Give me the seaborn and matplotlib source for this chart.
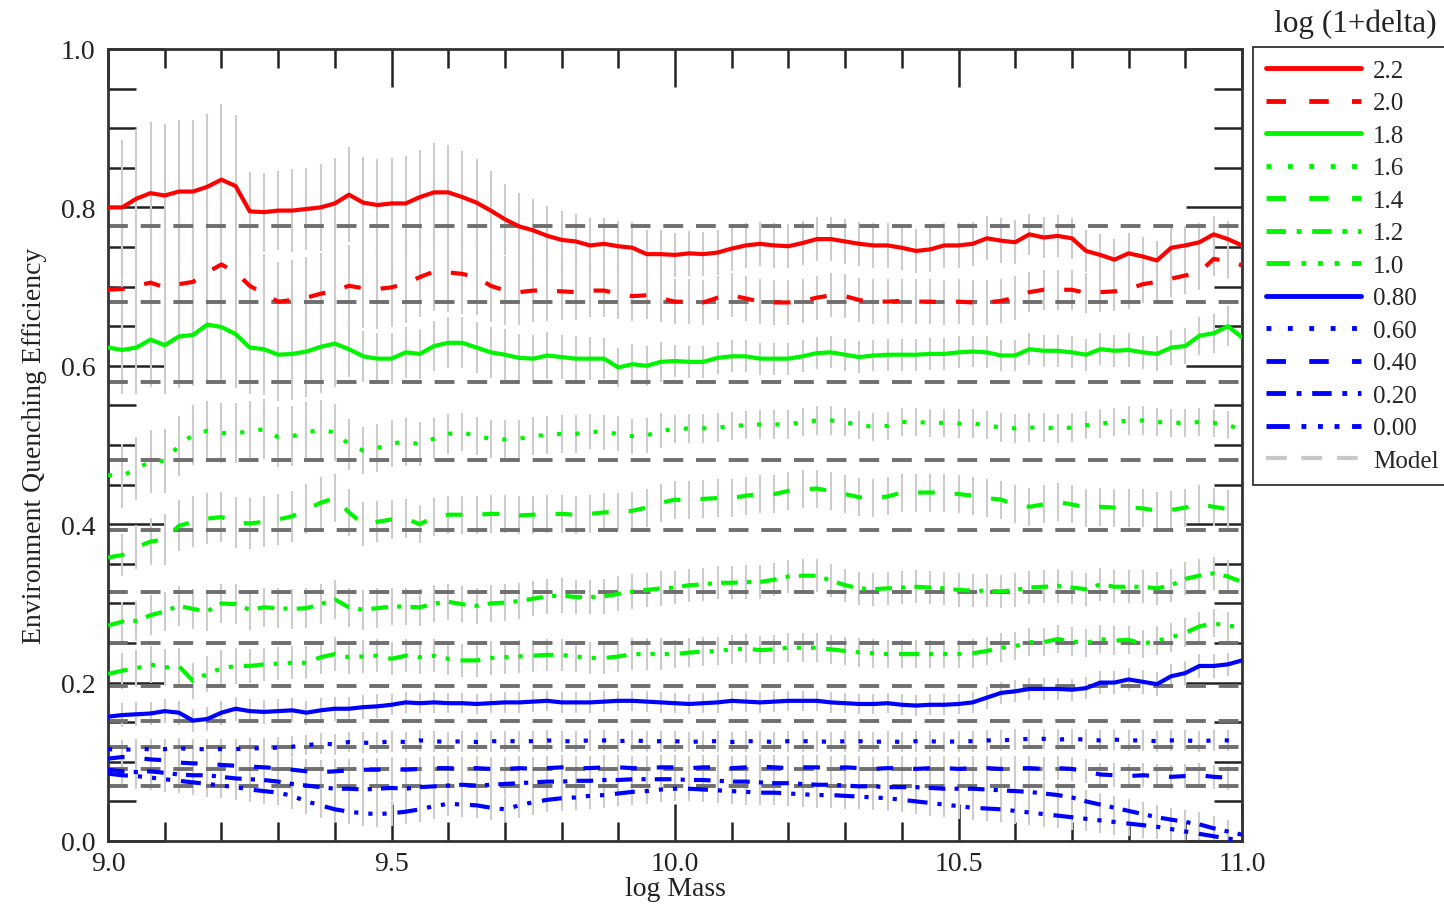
import numpy as np
import pandas as pd
import matplotlib
matplotlib.use("Agg")
import matplotlib.pyplot as plt
from matplotlib.lines import Line2D
from matplotlib.ticker import MultipleLocator, FormatStrFormatter
import seaborn as sns

# sampling grid in log mass (step 0.025)
mass = np.linspace(9.0, 11.0, 81)

# quenching efficiency per log(1+delta) bin
q_22 = [0.800, 0.800, 0.811, 0.818, 0.815, 0.820, 0.820, 0.826, 0.835, 0.827,
        0.795, 0.794, 0.796, 0.796, 0.798, 0.800, 0.805, 0.816, 0.806, 0.803,
        0.805, 0.805, 0.813, 0.819, 0.819, 0.813, 0.806, 0.796, 0.785, 0.776,
        0.771, 0.764, 0.759, 0.757, 0.752, 0.754, 0.751, 0.749, 0.741, 0.741,
        0.740, 0.742, 0.741, 0.743, 0.748, 0.752, 0.754, 0.752, 0.751, 0.755,
        0.760, 0.760, 0.757, 0.754, 0.752, 0.752, 0.749, 0.745, 0.747, 0.752,
        0.752, 0.754, 0.761, 0.758, 0.756, 0.766, 0.762, 0.764, 0.761, 0.745,
        0.740, 0.734, 0.742, 0.738, 0.733, 0.749, 0.752, 0.756, 0.766, 0.760,
        0.752]
q_20 = [0.696, 0.697, 0.701, 0.705, 0.699, 0.703, 0.706, 0.718, 0.728, 0.718,
        0.701, 0.691, 0.681, 0.683, 0.686, 0.691, 0.695, 0.701, 0.698, 0.697,
        0.699, 0.704, 0.712, 0.719, 0.718, 0.716, 0.712, 0.701, 0.695, 0.693,
        0.695, 0.695, 0.694, 0.693, 0.695, 0.695, 0.691, 0.688, 0.689, 0.685,
        0.681, 0.681, 0.680, 0.686, 0.689, 0.685, 0.681, 0.680, 0.680, 0.682,
        0.686, 0.689, 0.688, 0.683, 0.681, 0.681, 0.682, 0.681, 0.681, 0.680,
        0.681, 0.680, 0.680, 0.682, 0.686, 0.693, 0.696, 0.696, 0.696, 0.692,
        0.693, 0.694, 0.697, 0.703, 0.706, 0.710, 0.714, 0.718, 0.735, 0.732,
        0.727]
q_18 = [0.623, 0.620, 0.623, 0.633, 0.626, 0.637, 0.639, 0.652, 0.649, 0.640,
        0.623, 0.621, 0.614, 0.615, 0.618, 0.624, 0.628, 0.621, 0.612, 0.609,
        0.609, 0.617, 0.615, 0.625, 0.629, 0.629, 0.623, 0.617, 0.614, 0.610,
        0.609, 0.613, 0.611, 0.609, 0.609, 0.609, 0.598, 0.602, 0.600, 0.605,
        0.606, 0.605, 0.605, 0.610, 0.612, 0.612, 0.609, 0.609, 0.609, 0.612,
        0.616, 0.617, 0.614, 0.611, 0.613, 0.614, 0.614, 0.614, 0.615, 0.615,
        0.617, 0.618, 0.617, 0.613, 0.613, 0.621, 0.619, 0.619, 0.617, 0.614,
        0.621, 0.619, 0.620, 0.617, 0.615, 0.623, 0.625, 0.638, 0.641, 0.650,
        0.636]
q_16 = [0.462, 0.461, 0.470, 0.479, 0.480, 0.499, 0.513, 0.518, 0.515, 0.515,
        0.517, 0.520, 0.510, 0.511, 0.516, 0.519, 0.516, 0.501, 0.493, 0.496,
        0.502, 0.504, 0.501, 0.508, 0.514, 0.516, 0.511, 0.508, 0.507, 0.508,
        0.511, 0.513, 0.514, 0.514, 0.517, 0.516, 0.514, 0.511, 0.512, 0.518,
        0.520, 0.521, 0.521, 0.522, 0.524, 0.525, 0.526, 0.526, 0.526, 0.529,
        0.531, 0.531, 0.529, 0.525, 0.523, 0.524, 0.529, 0.529, 0.528, 0.528,
        0.527, 0.527, 0.525, 0.522, 0.521, 0.522, 0.522, 0.521, 0.522, 0.525,
        0.527, 0.529, 0.531, 0.531, 0.529, 0.528, 0.528, 0.529, 0.528, 0.525,
        0.520]
q_14 = [0.358, 0.361, 0.371, 0.378, 0.381, 0.398, 0.403, 0.407, 0.409, 0.402,
        0.401, 0.403, 0.406, 0.410, 0.419, 0.427, 0.433, 0.415, 0.400, 0.403,
        0.406, 0.407, 0.400, 0.409, 0.412, 0.412, 0.412, 0.413, 0.413, 0.411,
        0.412, 0.413, 0.413, 0.412, 0.413, 0.415, 0.415, 0.417, 0.421, 0.427,
        0.431, 0.430, 0.432, 0.433, 0.433, 0.436, 0.438, 0.438, 0.442, 0.444,
        0.445, 0.442, 0.438, 0.434, 0.433, 0.435, 0.440, 0.440, 0.440, 0.440,
        0.438, 0.436, 0.433, 0.431, 0.425, 0.422, 0.425, 0.428, 0.425, 0.421,
        0.422, 0.421, 0.421, 0.420, 0.417, 0.418, 0.421, 0.425, 0.422, 0.419,
        0.411]
q_12 = [0.272, 0.277, 0.278, 0.285, 0.290, 0.297, 0.293, 0.290, 0.300, 0.299,
        0.292, 0.295, 0.294, 0.293, 0.294, 0.299, 0.305, 0.295, 0.292, 0.294,
        0.296, 0.296, 0.295, 0.300, 0.302, 0.299, 0.297, 0.300, 0.301, 0.303,
        0.306, 0.309, 0.310, 0.308, 0.308, 0.309, 0.312, 0.315, 0.317, 0.319,
        0.320, 0.323, 0.324, 0.326, 0.326, 0.327, 0.327, 0.330, 0.334, 0.335,
        0.335, 0.329, 0.323, 0.319, 0.318, 0.319, 0.320, 0.321, 0.320, 0.319,
        0.317, 0.316, 0.316, 0.315, 0.317, 0.320, 0.321, 0.322, 0.320, 0.318,
        0.324, 0.321, 0.321, 0.321, 0.319, 0.323, 0.331, 0.335, 0.338, 0.334,
        0.327]
q_10 = [0.211, 0.215, 0.218, 0.223, 0.219, 0.221, 0.202, 0.211, 0.218, 0.221,
        0.221, 0.223, 0.224, 0.225, 0.225, 0.232, 0.236, 0.232, 0.233, 0.234,
        0.230, 0.234, 0.232, 0.234, 0.230, 0.228, 0.228, 0.231, 0.232, 0.233,
        0.234, 0.235, 0.235, 0.233, 0.231, 0.231, 0.233, 0.236, 0.236, 0.236,
        0.236, 0.238, 0.239, 0.240, 0.242, 0.243, 0.241, 0.242, 0.244, 0.244,
        0.244, 0.242, 0.240, 0.238, 0.237, 0.236, 0.236, 0.236, 0.236, 0.236,
        0.236, 0.237, 0.240, 0.244, 0.246, 0.251, 0.251, 0.255, 0.252, 0.250,
        0.255, 0.253, 0.254, 0.249, 0.253, 0.257, 0.263, 0.271, 0.275, 0.271,
        0.272]
q_08 = [0.157, 0.159, 0.160, 0.161, 0.164, 0.162, 0.152, 0.154, 0.162, 0.167,
        0.164, 0.163, 0.164, 0.165, 0.162, 0.165, 0.167, 0.167, 0.169, 0.170,
        0.172, 0.175, 0.174, 0.175, 0.174, 0.174, 0.173, 0.174, 0.175, 0.175,
        0.176, 0.177, 0.175, 0.175, 0.175, 0.176, 0.177, 0.177, 0.176, 0.175,
        0.174, 0.173, 0.174, 0.175, 0.177, 0.176, 0.175, 0.176, 0.177, 0.177,
        0.177, 0.175, 0.174, 0.173, 0.173, 0.174, 0.172, 0.171, 0.172, 0.172,
        0.173, 0.175, 0.181, 0.187, 0.189, 0.192, 0.192, 0.192, 0.191, 0.193,
        0.200, 0.200, 0.204, 0.201, 0.198, 0.208, 0.212, 0.221, 0.221, 0.223,
        0.228]
q_06 = [0.116, 0.115, 0.116, 0.116, 0.116, 0.117, 0.116, 0.116, 0.116, 0.116,
        0.117, 0.117, 0.118, 0.119, 0.121, 0.123, 0.122, 0.125, 0.124, 0.124,
        0.126, 0.125, 0.127, 0.126, 0.125, 0.126, 0.125, 0.126, 0.126, 0.126,
        0.126, 0.127, 0.126, 0.126, 0.127, 0.127, 0.126, 0.127, 0.126, 0.126,
        0.126, 0.125, 0.126, 0.126, 0.125, 0.126, 0.126, 0.125, 0.126, 0.126,
        0.126, 0.125, 0.126, 0.126, 0.125, 0.126, 0.125, 0.126, 0.126, 0.125,
        0.126, 0.126, 0.127, 0.127, 0.128, 0.129, 0.129, 0.128, 0.129, 0.128,
        0.127, 0.128, 0.127, 0.127, 0.126, 0.127, 0.127, 0.126, 0.127, 0.127,
        0.126]
q_04 = [0.104, 0.106, 0.105, 0.103, 0.102, 0.099, 0.098, 0.098, 0.096, 0.095,
        0.094, 0.093, 0.092, 0.090, 0.088, 0.087, 0.088, 0.089, 0.090, 0.090,
        0.091, 0.090, 0.091, 0.092, 0.092, 0.091, 0.092, 0.091, 0.091, 0.092,
        0.091, 0.092, 0.093, 0.092, 0.092, 0.093, 0.093, 0.092, 0.092, 0.093,
        0.093, 0.092, 0.093, 0.093, 0.092, 0.093, 0.094, 0.093, 0.092, 0.093,
        0.093, 0.092, 0.093, 0.092, 0.091, 0.092, 0.092, 0.091, 0.092, 0.092,
        0.091, 0.092, 0.092, 0.091, 0.092, 0.092, 0.091, 0.092, 0.091, 0.088,
        0.084, 0.083, 0.082, 0.083, 0.082, 0.081, 0.082, 0.083, 0.081, 0.080,
        0.076]
q_02 = [0.090, 0.088, 0.087, 0.088, 0.086, 0.084, 0.083, 0.083, 0.081, 0.079,
        0.078, 0.077, 0.075, 0.072, 0.070, 0.068, 0.066, 0.066, 0.065, 0.066,
        0.067, 0.066, 0.068, 0.069, 0.070, 0.071, 0.070, 0.071, 0.072, 0.073,
        0.074, 0.075, 0.075, 0.076, 0.076, 0.077, 0.077, 0.078, 0.078, 0.078,
        0.078, 0.077, 0.077, 0.076, 0.075, 0.075, 0.074, 0.073, 0.073, 0.072,
        0.071, 0.071, 0.070, 0.069, 0.069, 0.068, 0.068, 0.068, 0.067, 0.066,
        0.066, 0.066, 0.065, 0.064, 0.063, 0.062, 0.060, 0.058, 0.055, 0.050,
        0.046, 0.042, 0.038, 0.034, 0.030, 0.027, 0.024, 0.021, 0.016, 0.012,
        0.008]
q_00 = [0.085, 0.083, 0.082, 0.080, 0.078, 0.076, 0.074, 0.072, 0.070, 0.068,
        0.065, 0.063, 0.061, 0.057, 0.050, 0.045, 0.040, 0.037, 0.035, 0.034,
        0.035, 0.037, 0.040, 0.044, 0.047, 0.046, 0.045, 0.042, 0.040, 0.045,
        0.049, 0.052, 0.054, 0.055, 0.057, 0.058, 0.060, 0.062, 0.063, 0.065,
        0.066, 0.066, 0.065, 0.064, 0.063, 0.062, 0.061, 0.061, 0.060, 0.059,
        0.058, 0.058, 0.057, 0.056, 0.055, 0.054, 0.052, 0.050, 0.048, 0.046,
        0.044, 0.042, 0.041, 0.040, 0.038, 0.036, 0.034, 0.032, 0.030, 0.028,
        0.026, 0.024, 0.022, 0.020, 0.018, 0.015, 0.012, 0.009, 0.006, 0.003,
        0.001]

# half-length of the grey error bars
err_22 = [0.085, 0.085, 0.088, 0.090, 0.090, 0.090, 0.090, 0.092, 0.095, 0.090,
          0.050, 0.050, 0.050, 0.052, 0.052, 0.055, 0.058, 0.060, 0.058, 0.058,
          0.058, 0.060, 0.060, 0.062, 0.060, 0.058, 0.055, 0.050, 0.045, 0.042,
          0.040, 0.038, 0.036, 0.035, 0.034, 0.033, 0.032, 0.032, 0.030, 0.030,
          0.028, 0.028, 0.028, 0.028, 0.028, 0.028, 0.028, 0.028, 0.028, 0.028,
          0.028, 0.028, 0.028, 0.028, 0.028, 0.028, 0.028, 0.028, 0.028, 0.028,
          0.028, 0.028, 0.028, 0.028, 0.028, 0.026, 0.026, 0.026, 0.026, 0.026,
          0.026, 0.026, 0.026, 0.025, 0.025, 0.025, 0.024, 0.024, 0.023, 0.023,
          0.022]
err_20 = [0.080, 0.080, 0.082, 0.085, 0.085, 0.085, 0.085, 0.088, 0.090, 0.088,
          0.050, 0.050, 0.050, 0.050, 0.052, 0.052, 0.052, 0.052, 0.050, 0.050,
          0.050, 0.050, 0.050, 0.050, 0.050, 0.050, 0.048, 0.046, 0.044, 0.042,
          0.040, 0.038, 0.036, 0.035, 0.034, 0.033, 0.032, 0.032, 0.030, 0.030,
          0.028, 0.028, 0.028, 0.028, 0.028, 0.028, 0.028, 0.028, 0.028, 0.028,
          0.028, 0.028, 0.028, 0.028, 0.028, 0.028, 0.028, 0.028, 0.028, 0.028,
          0.028, 0.028, 0.028, 0.028, 0.028, 0.025, 0.025, 0.025, 0.025, 0.025,
          0.025, 0.025, 0.025, 0.024, 0.024, 0.023, 0.023, 0.022, 0.022, 0.022,
          0.022]
err_18 = [0.055, 0.055, 0.058, 0.060, 0.062, 0.065, 0.065, 0.070, 0.070, 0.068,
          0.058, 0.058, 0.058, 0.058, 0.058, 0.058, 0.055, 0.035, 0.032, 0.032,
          0.032, 0.032, 0.032, 0.032, 0.032, 0.032, 0.032, 0.032, 0.032, 0.030,
          0.030, 0.030, 0.028, 0.028, 0.027, 0.026, 0.025, 0.025, 0.025, 0.025,
          0.020, 0.020, 0.020, 0.020, 0.020, 0.020, 0.020, 0.020, 0.020, 0.020,
          0.020, 0.020, 0.020, 0.020, 0.020, 0.020, 0.020, 0.020, 0.020, 0.020,
          0.020, 0.020, 0.020, 0.020, 0.020, 0.020, 0.020, 0.020, 0.020, 0.020,
          0.020, 0.020, 0.021, 0.021, 0.022, 0.022, 0.023, 0.024, 0.025, 0.025,
          0.025]
err_16 = [0.040, 0.040, 0.040, 0.040, 0.040, 0.038, 0.038, 0.038, 0.038, 0.038,
          0.038, 0.038, 0.038, 0.038, 0.038, 0.038, 0.036, 0.032, 0.030, 0.030,
          0.030, 0.030, 0.028, 0.026, 0.025, 0.024, 0.024, 0.024, 0.024, 0.024,
          0.024, 0.024, 0.024, 0.024, 0.022, 0.022, 0.022, 0.022, 0.022, 0.022,
          0.018, 0.018, 0.018, 0.018, 0.018, 0.018, 0.018, 0.018, 0.018, 0.018,
          0.018, 0.018, 0.018, 0.018, 0.018, 0.018, 0.018, 0.018, 0.018, 0.018,
          0.018, 0.018, 0.018, 0.018, 0.018, 0.018, 0.018, 0.018, 0.018, 0.018,
          0.018, 0.018, 0.018, 0.018, 0.018, 0.018, 0.018, 0.018, 0.018, 0.018,
          0.018]
err_14 = [0.027, 0.027, 0.028, 0.030, 0.032, 0.032, 0.032, 0.032, 0.032, 0.032,
          0.032, 0.032, 0.032, 0.032, 0.032, 0.032, 0.030, 0.030, 0.028, 0.026,
          0.025, 0.025, 0.024, 0.024, 0.024, 0.024, 0.024, 0.024, 0.024, 0.024,
          0.024, 0.024, 0.024, 0.024, 0.024, 0.024, 0.024, 0.024, 0.024, 0.024,
          0.024, 0.024, 0.024, 0.024, 0.024, 0.024, 0.024, 0.024, 0.024, 0.024,
          0.024, 0.024, 0.024, 0.024, 0.024, 0.024, 0.024, 0.024, 0.024, 0.024,
          0.024, 0.024, 0.024, 0.024, 0.024, 0.024, 0.024, 0.024, 0.024, 0.024,
          0.024, 0.024, 0.024, 0.024, 0.024, 0.024, 0.024, 0.024, 0.024, 0.024,
          0.024]
err_12 = [0.025, 0.025, 0.025, 0.025, 0.025, 0.025, 0.025, 0.025, 0.025, 0.025,
          0.025, 0.025, 0.025, 0.025, 0.025, 0.025, 0.025, 0.025, 0.025, 0.025,
          0.023, 0.023, 0.023, 0.023, 0.023, 0.023, 0.023, 0.023, 0.023, 0.023,
          0.022, 0.022, 0.022, 0.022, 0.022, 0.022, 0.022, 0.022, 0.022, 0.022,
          0.021, 0.021, 0.021, 0.021, 0.021, 0.021, 0.021, 0.021, 0.021, 0.021,
          0.021, 0.021, 0.021, 0.021, 0.021, 0.021, 0.021, 0.021, 0.021, 0.021,
          0.021, 0.021, 0.021, 0.021, 0.021, 0.021, 0.021, 0.021, 0.021, 0.021,
          0.021, 0.021, 0.021, 0.021, 0.021, 0.021, 0.021, 0.021, 0.021, 0.021,
          0.021]
err_10 = [0.023, 0.023, 0.023, 0.023, 0.023, 0.023, 0.023, 0.023, 0.023, 0.023,
          0.021, 0.021, 0.021, 0.021, 0.021, 0.021, 0.021, 0.021, 0.021, 0.021,
          0.021, 0.021, 0.021, 0.021, 0.021, 0.021, 0.021, 0.021, 0.021, 0.021,
          0.020, 0.020, 0.020, 0.020, 0.020, 0.020, 0.020, 0.020, 0.020, 0.020,
          0.018, 0.018, 0.018, 0.018, 0.018, 0.018, 0.018, 0.018, 0.018, 0.018,
          0.018, 0.018, 0.018, 0.018, 0.018, 0.018, 0.018, 0.018, 0.018, 0.018,
          0.018, 0.018, 0.018, 0.018, 0.018, 0.018, 0.018, 0.018, 0.018, 0.018,
          0.018, 0.018, 0.018, 0.018, 0.018, 0.018, 0.018, 0.018, 0.018, 0.018,
          0.018]
err_08 = [0.015, 0.015, 0.015, 0.015, 0.015, 0.015, 0.015, 0.015, 0.015, 0.015,
          0.015, 0.015, 0.015, 0.015, 0.015, 0.015, 0.015, 0.015, 0.015, 0.015,
          0.013, 0.013, 0.013, 0.013, 0.013, 0.013, 0.013, 0.013, 0.013, 0.013,
          0.013, 0.013, 0.013, 0.013, 0.013, 0.013, 0.013, 0.013, 0.013, 0.013,
          0.013, 0.013, 0.013, 0.013, 0.013, 0.013, 0.013, 0.013, 0.013, 0.013,
          0.013, 0.013, 0.013, 0.013, 0.013, 0.013, 0.013, 0.013, 0.013, 0.013,
          0.013, 0.013, 0.014, 0.014, 0.014, 0.014, 0.014, 0.014, 0.014, 0.014,
          0.015, 0.015, 0.015, 0.015, 0.015, 0.015, 0.015, 0.015, 0.015, 0.015,
          0.015]
err_06 = [0.013, 0.013, 0.013, 0.013, 0.013, 0.013, 0.013, 0.013, 0.013, 0.013,
          0.013, 0.013, 0.013, 0.013, 0.013, 0.013, 0.013, 0.013, 0.013, 0.013,
          0.013, 0.013, 0.013, 0.013, 0.013, 0.013, 0.013, 0.013, 0.013, 0.013,
          0.013, 0.013, 0.013, 0.013, 0.013, 0.013, 0.013, 0.013, 0.013, 0.013,
          0.013, 0.013, 0.013, 0.013, 0.013, 0.013, 0.013, 0.013, 0.013, 0.013,
          0.013, 0.013, 0.013, 0.013, 0.013, 0.013, 0.013, 0.013, 0.013, 0.013,
          0.013, 0.013, 0.013, 0.013, 0.013, 0.013, 0.013, 0.013, 0.013, 0.013,
          0.013, 0.013, 0.013, 0.013, 0.013, 0.013, 0.013, 0.013, 0.013, 0.013,
          0.013]
err_04 = [0.015, 0.015, 0.015, 0.015, 0.015, 0.015, 0.015, 0.015, 0.015, 0.015,
          0.015, 0.015, 0.015, 0.015, 0.015, 0.015, 0.015, 0.015, 0.015, 0.015,
          0.015, 0.015, 0.015, 0.015, 0.015, 0.015, 0.015, 0.015, 0.015, 0.015,
          0.015, 0.015, 0.015, 0.015, 0.015, 0.015, 0.015, 0.015, 0.015, 0.015,
          0.015, 0.015, 0.015, 0.015, 0.015, 0.015, 0.015, 0.015, 0.015, 0.015,
          0.015, 0.015, 0.015, 0.015, 0.015, 0.015, 0.015, 0.015, 0.015, 0.015,
          0.015, 0.015, 0.015, 0.015, 0.015, 0.015, 0.015, 0.015, 0.015, 0.015,
          0.015, 0.015, 0.015, 0.015, 0.015, 0.015, 0.015, 0.015, 0.015, 0.015,
          0.015]
err_02 = [0.015, 0.015, 0.015, 0.015, 0.015, 0.015, 0.015, 0.015, 0.015, 0.015,
          0.015, 0.015, 0.015, 0.015, 0.015, 0.015, 0.015, 0.015, 0.015, 0.015,
          0.015, 0.015, 0.015, 0.015, 0.015, 0.015, 0.015, 0.015, 0.015, 0.015,
          0.015, 0.015, 0.015, 0.015, 0.015, 0.015, 0.015, 0.015, 0.015, 0.015,
          0.015, 0.015, 0.015, 0.015, 0.015, 0.015, 0.015, 0.015, 0.015, 0.015,
          0.015, 0.015, 0.015, 0.015, 0.015, 0.015, 0.015, 0.015, 0.015, 0.015,
          0.015, 0.015, 0.015, 0.015, 0.015, 0.015, 0.015, 0.015, 0.015, 0.015,
          0.015, 0.015, 0.015, 0.015, 0.015, 0.015, 0.015, 0.015, 0.015, 0.015,
          0.015]
err_00 = [0.016, 0.016, 0.016, 0.016, 0.016, 0.016, 0.016, 0.016, 0.016, 0.016,
          0.016, 0.016, 0.016, 0.016, 0.016, 0.016, 0.016, 0.016, 0.016, 0.016,
          0.016, 0.016, 0.016, 0.016, 0.016, 0.016, 0.016, 0.016, 0.016, 0.016,
          0.016, 0.016, 0.016, 0.016, 0.016, 0.016, 0.016, 0.016, 0.016, 0.016,
          0.016, 0.016, 0.016, 0.016, 0.016, 0.016, 0.016, 0.016, 0.016, 0.016,
          0.016, 0.016, 0.016, 0.016, 0.016, 0.016, 0.016, 0.016, 0.016, 0.016,
          0.016, 0.016, 0.016, 0.016, 0.016, 0.016, 0.016, 0.016, 0.016, 0.016,
          0.016, 0.016, 0.016, 0.016, 0.016, 0.016, 0.016, 0.016, 0.016, 0.016,
          0.016]

# model predictions (flat lines)
model_levels = [0.777, 0.680, 0.579, 0.481, 0.393, 0.315, 0.250, 0.196,
                0.152, 0.119, 0.091, 0.069]

labels = ["2.2", "2.0", "1.8", "1.6", "1.4", "1.2", "1.0",
          "0.80", "0.60", "0.40", "0.20", "0.00"]
series = [q_22, q_20, q_18, q_16, q_14, q_12, q_10, q_08, q_06, q_04, q_02, q_00]
errors = [err_22, err_20, err_18, err_16, err_14, err_12, err_10,
          err_08, err_06, err_04, err_02, err_00]

RED, GREEN, BLUE = "#ff0000", "#00f500", "#0000ff"
colors = [RED, RED, GREEN, GREEN, GREEN, GREEN, GREEN, BLUE, BLUE, BLUE, BLUE, BLUE]

solid = ""
dashed = (4.0, 4.8)
dotted = (1.0, 3.4)
dashdot = (4.0, 2.2, 1.0, 2.2)
dashdotdot = (4.8, 2.4, 1.0, 2.4, 1.0, 2.4, 1.0, 2.6)
styles = [solid, dashed, solid, dotted, dashed, dashdot, dashdotdot,
          solid, dotted, dashed, dashdot, dashdotdot]

df = pd.concat(
    [pd.DataFrame({"mass": mass, "eff": vals, "delta": lab})
     for lab, vals in zip(labels, series)],
    ignore_index=True,
)

sns.set_style("ticks")
plt.rcParams["font.family"] = ["Liberation Serif", "DejaVu Serif"]

fig = plt.figure(figsize=(14.44, 9.12), dpi=100)
ax = fig.add_axes([108 / 1444, 1 - 842 / 912, (1242 - 108) / 1444, (842 - 50) / 912])

# grey error bars
for vals, err in zip(series, errors):
    v = np.array(vals)
    e = np.array(err)
    ax.vlines(mass, v - e, v + e, colors="#cccccc", linewidth=1.5, zorder=1)

# model lines
for lev in model_levels:
    ax.axhline(lev, color="#6f6f6f", linewidth=2.8, dashes=(5.1, 3.3), zorder=2)

sns.lineplot(
    data=df, x="mass", y="eff", hue="delta", style="delta",
    hue_order=labels, style_order=labels,
    palette=dict(zip(labels, colors)), dashes=dict(zip(labels, styles)),
    linewidth=3, estimator=None, sort=False, legend=False, ax=ax, zorder=3,
)

ax.set_xlim(9.0, 11.0)
ax.set_ylim(0.0, 1.0)
ax.xaxis.set_major_locator(MultipleLocator(0.5))
ax.xaxis.set_minor_locator(MultipleLocator(0.1))
ax.yaxis.set_major_locator(MultipleLocator(0.2))
ax.yaxis.set_minor_locator(MultipleLocator(0.05))
ax.xaxis.set_major_formatter(FormatStrFormatter("%.1f"))
ax.yaxis.set_major_formatter(FormatStrFormatter("%.1f"))

ax.tick_params(which="both", direction="in", top=True, right=True,
               color="#222222", width=1.8, labelsize=20, labelcolor="#222222")
ax.tick_params(axis="x", which="major", length=27, pad=7)
ax.tick_params(axis="x", which="minor", length=14)
ax.tick_params(axis="y", which="major", length=40, pad=9)
ax.tick_params(axis="y", which="minor", length=20)
for sp in ax.spines.values():
    sp.set_linewidth(2.0)
    sp.set_color("#333333")

ax.set_xlabel("log Mass", fontsize=20, labelpad=0, color="#222222")
ax.set_ylabel("Environment Quenching Efficiency", fontsize=20, labelpad=10,
              color="#222222")

# legend
handles = []
for c, st in zip(colors, styles):
    if st == "":
        handles.append(Line2D([], [], color=c, linewidth=3.5, linestyle="-"))
    else:
        handles.append(Line2D([], [], color=c, linewidth=3.5, dashes=st))
handles.append(Line2D([], [], color="#c8c8c8", linewidth=3, dashes=(5.0, 3.5)))
leg = fig.legend(
    handles, labels + ["Model"], loc="upper left",
    bbox_to_anchor=(1253 / 1444, 1 - 48 / 912), bbox_transform=fig.transFigure,
    frameon=True, fancybox=False, edgecolor="#333333", framealpha=1,
    fontsize=18, handlelength=3.8, handletextpad=0.5, labelspacing=0.4,
    borderpad=0.5, borderaxespad=0,
)
leg.get_frame().set_linewidth(1.3)
fig.text(1355 / 1444, 1 - 24 / 912, "log (1+delta)", ha="center", va="center",
         fontsize=22.5, color="#222222")

fig.savefig("out.png", dpi=100)
